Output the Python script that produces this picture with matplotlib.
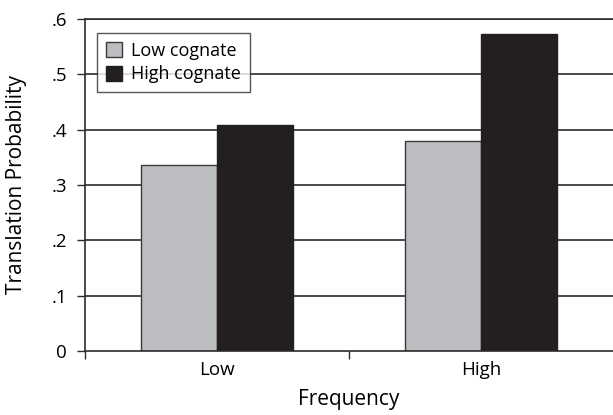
import matplotlib
matplotlib.use("Agg")
import matplotlib.pyplot as plt
import numpy as np

plt.rcParams['font.family'] = ['Open Sans', 'DejaVu Sans']

categories = ["Low", "High"]
series_names = ["Low cognate", "High cognate"]
low_cognate = [0.336, 0.380]
high_cognate = [0.408, 0.572]
yticks = [0, 0.1, 0.2, 0.3, 0.4, 0.5, 0.6]
ytick_labels = ["0", ".1", ".2", ".3", ".4", ".5", ".6"]

fig = plt.figure(figsize=(6.13, 4.15), dpi=100)
W, H = 613, 415
ax = fig.add_axes([85 / W, 1 - 351 / H, (613 - 85) / W, (351 - 19) / H])

x = np.arange(len(categories)) + 0.5
bw = 0.288
line_col = "#2b2b2b"
for v in yticks[1:]:
    ax.axhline(v, color=line_col, lw=1.2, zorder=1)
ax.bar(x - bw / 2, low_cognate, bw, color="#bcbdc0", edgecolor="#3a3a3a", lw=1.0,
       label=series_names[0], zorder=2)
ax.bar(x + bw / 2, high_cognate, bw, color="#231f20", edgecolor="#231f20", lw=1.0,
       label=series_names[1], zorder=2)

ax.set_xlim(0, 2)
ax.set_ylim(0, 0.6)
ax.set_yticks(yticks)
ax.set_yticklabels(ytick_labels, fontsize=13.5)
ax.set_xticks([0, 1])
ax.set_xticklabels([])
ax.set_xticks(x, minor=True)
ax.set_xticklabels(categories, minor=True, fontsize=13.5)
ax.tick_params(axis='x', which='minor', length=0, pad=7)
ax.tick_params(axis='x', which='major', length=6, width=1, color=line_col)
ax.tick_params(axis='y', length=6, width=1, color=line_col, pad=7)

ax.spines["right"].set_visible(False)
for s in ["left", "bottom", "top"]:
    ax.spines[s].set_color(line_col)
    ax.spines[s].set_linewidth(1.2)

ax.set_ylabel("Translation Probability", fontsize=15, va="center")
ax.yaxis.set_label_coords((17 - 85) / 528, 0.5)
ax.set_xlabel("Frequency", fontsize=15, va="center")
ax.xaxis.set_label_coords(0.5, (351 - 399) / 332)

leg = ax.legend(loc="upper left", bbox_to_anchor=(12 / 528, 1 - 14 / 332),
                frameon=True, fancybox=False, fontsize=13, handlelength=0.9,
                handleheight=0.9, handletextpad=0.5, borderpad=0.5,
                labelspacing=0.3, borderaxespad=0)
leg.get_frame().set_edgecolor(line_col)
leg.get_frame().set_linewidth(1.0)

fig.savefig("out.png", dpi=100)
